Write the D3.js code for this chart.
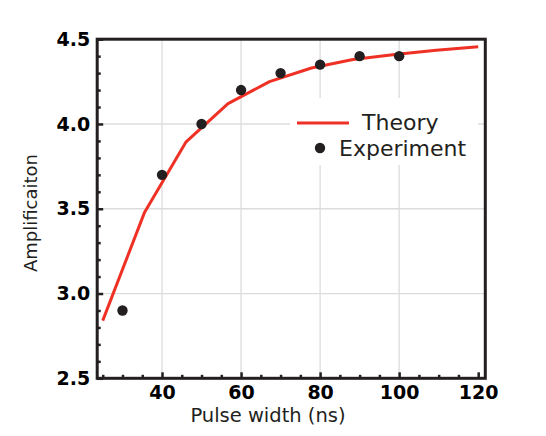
<!DOCTYPE html>
<html>
<head>
<meta charset="utf-8">
<script src="https://cdn.jsdelivr.net/npm/d3@7"></script>
<style>
  html, body { margin: 0; padding: 0; background: #fff; }
  svg { display: block; }
</style>
</head>
<body>
<div id="chart"></div>
<script>
// ---- data ----
const theoryX = [25, 35.6, 46.1, 56.7, 67.2, 77.8, 88.3, 98.9, 109.4, 120];
const theoryY = [2.84, 3.48, 3.895, 4.12, 4.25, 4.33, 4.38, 4.41, 4.435, 4.455];
const expX = [30, 40, 50, 60, 70, 80, 90, 100];
const expY = [2.9, 3.7, 4.0, 4.2, 4.3, 4.35, 4.4, 4.4];
const xMajorTicks = [40, 60, 80, 100, 120];
const xMinorTicks = [25, 30, 35, 45, 50, 55, 65, 70, 75, 85, 90, 95, 105, 110, 115];
const yMajorTicks = [2.5, 3.0, 3.5, 4.0, 4.5];
const yMinorTicks = [2.6, 2.7, 2.8, 2.9, 3.1, 3.2, 3.3, 3.4, 3.6, 3.7, 3.8, 3.9, 4.1, 4.2, 4.3, 4.4];
const xGrid = [40, 60, 80, 100];
const yGrid = [3.0, 3.5, 4.0];
const legendLabels = ["Theory", "Experiment"];
const xTitle = "Pulse width (ns)";
const yTitle = "Amplificaiton";

// ---- layout ----
const W = 546, H = 436;
const pL = 97.2, pR = 485.3, pT = 39.2, pB = 378.3;
const dark = "#231f20", red = "#ee3124";

const svg = d3.select("#chart").append("svg").attr("width", W).attr("height", H);

const x = d3.scaleLinear().domain([23.6, 121.8]).range([pL, pR]);
const y = d3.scaleLinear().domain([2.5, 4.5]).range([pB, pT]);

// gridlines
svg.append("g").selectAll("line").data(xGrid).join("line")
  .attr("x1", d => x(d)).attr("x2", d => x(d))
  .attr("y1", pT).attr("y2", pB)
  .attr("stroke", "#dcdcdc").attr("stroke-width", 1.3);
svg.append("g").selectAll("line").data(yGrid).join("line")
  .attr("x1", pL).attr("x2", pR)
  .attr("y1", d => y(d)).attr("y2", d => y(d))
  .attr("stroke", "#dcdcdc").attr("stroke-width", 1.3);

// legend background
svg.append("rect").attr("x", 290).attr("y", 98).attr("width", 188).attr("height", 67).attr("fill", "#fff");

// theory line
const line = d3.line().x(d => x(d[0])).y(d => y(d[1]));
svg.append("path")
  .datum(theoryX.map((v, i) => [v, theoryY[i]]))
  .attr("d", line)
  .attr("fill", "none").attr("stroke", red).attr("stroke-width", 3)
  .attr("stroke-linejoin", "round");

// experiment points
svg.append("g").selectAll("circle").data(expX.map((v, i) => [v, expY[i]])).join("circle")
  .attr("cx", d => x(d[0])).attr("cy", d => y(d[1])).attr("r", 5.2)
  .attr("fill", dark);

// axes
function styleAxis(g, fontSize) {
  g.select(".domain").remove();
  g.selectAll(".tick line").attr("stroke", dark).attr("stroke-width", 2.5);
  g.selectAll(".tick text")
    .attr("fill", "#000")
    .style("font-family", "'DejaVu Sans', sans-serif")
    .style("font-weight", "bold")
    .style("font-size", fontSize + "px");
}

svg.append("g").attr("transform", `translate(0,${pB})`)
  .call(d3.axisBottom(x).tickValues(xMajorTicks).tickSizeInner(-6).tickSizeOuter(0).tickPadding(7).tickFormat(d3.format("d")))
  .call(g => styleAxis(g, 19));
svg.append("g").attr("transform", `translate(0,${pB})`)
  .call(d3.axisBottom(x).tickValues(xMinorTicks).tickSizeInner(-3.5).tickSizeOuter(0).tickFormat(""))
  .call(g => styleAxis(g, 19));

svg.append("g").attr("transform", `translate(${pL},0)`)
  .call(d3.axisLeft(y).tickValues(yMajorTicks).tickSizeInner(-6).tickSizeOuter(0).tickPadding(7).tickFormat(d3.format(".1f")))
  .call(g => styleAxis(g, 19));
svg.append("g").attr("transform", `translate(${pL},0)`)
  .call(d3.axisLeft(y).tickValues(yMinorTicks).tickSizeInner(-3.5).tickSizeOuter(0).tickFormat(""))
  .call(g => styleAxis(g, 19));

// frame
svg.append("rect")
  .attr("x", pL).attr("y", pT).attr("width", pR - pL).attr("height", pB - pT)
  .attr("fill", "none").attr("stroke", dark).attr("stroke-width", 3);

// axis titles
svg.append("text")
  .attr("x", 268).attr("y", 421.5).attr("text-anchor", "middle")
  .style("font-family", "'DejaVu Sans', sans-serif").style("font-size", "19.5px")
  .attr("fill", dark).text(xTitle);
svg.append("text")
  .attr("transform", "translate(37,213) rotate(-90)").attr("text-anchor", "middle")
  .style("font-family", "'DejaVu Sans', sans-serif").style("font-size", "18px")
  .attr("fill", dark).text(yTitle);

// legend
const lg = svg.append("g");
lg.append("line").attr("x1", 297).attr("x2", 349).attr("y1", 123).attr("y2", 123)
  .attr("stroke", red).attr("stroke-width", 3);
lg.append("circle").attr("cx", 320).attr("cy", 148).attr("r", 5.2).attr("fill", dark);
lg.append("text").attr("x", 362).attr("y", 130).text(legendLabels[0])
  .style("font-family", "'DejaVu Sans', sans-serif").style("font-size", "22px").attr("fill", dark);
lg.append("text").attr("x", 339).attr("y", 156).text(legendLabels[1])
  .style("font-family", "'DejaVu Sans', sans-serif").style("font-size", "22px").attr("fill", dark);
</script>
</body>
</html>
